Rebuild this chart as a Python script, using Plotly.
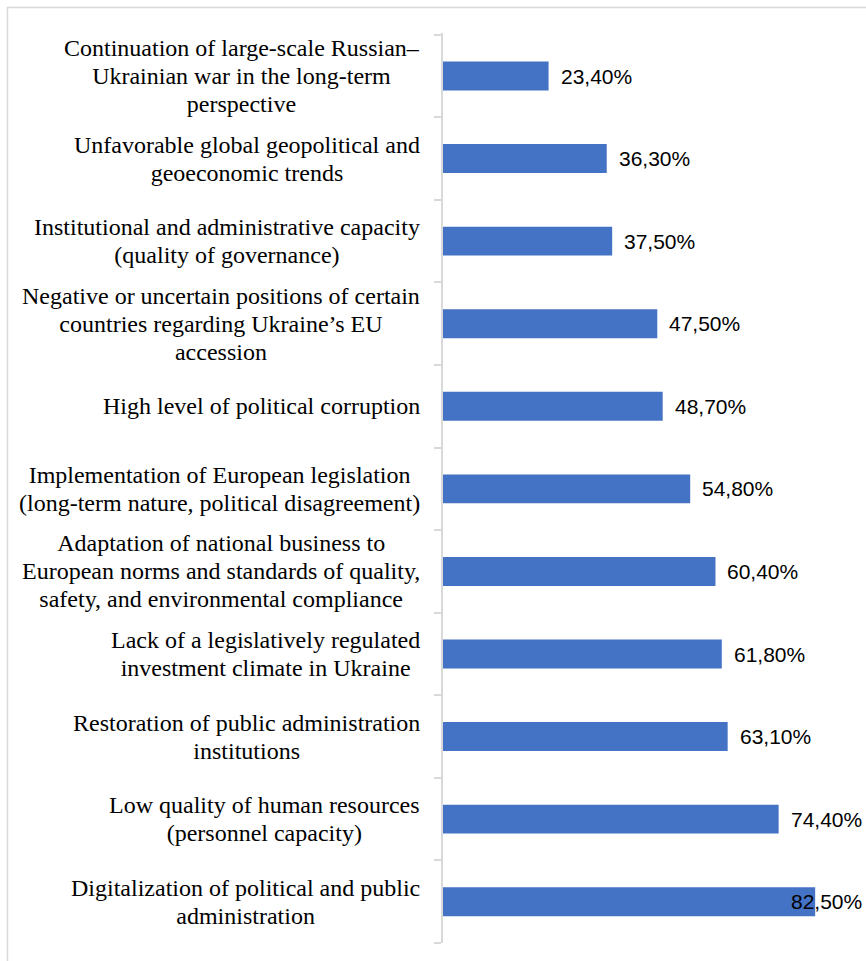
import plotly.graph_objects as go

categories = [
    "Digitalization of political and public<br>administration",
    "Low quality of human resources<br>(personnel capacity)",
    "Restoration of public administration<br>institutions",
    "Lack of a legislatively regulated<br>investment climate in Ukraine",
    "Adaptation of national business to<br>European norms and standards of quality,<br>safety, and environmental compliance",
    "Implementation of European legislation<br>(long-term nature, political disagreement)",
    "High level of political corruption",
    "Negative or uncertain positions of certain<br>countries regarding Ukraine’s EU<br>accession",
    "Institutional and administrative capacity<br>(quality of governance)",
    "Unfavorable global geopolitical and<br>geoeconomic trends",
    "Continuation of large-scale Russian–<br>Ukrainian war in the long-term<br>perspective",
]
values = [82.5, 74.4, 63.1, 61.8, 60.4, 54.8, 48.7, 47.5, 37.5, 36.3, 23.4]
labels = ["82,50%", "74,40%", "63,10%", "61,80%", "60,40%", "54,80%",
          "48,70%", "47,50%", "37,50%", "36,30%", "23,40%"]

XMAX = 90
LABEL_W = 72  # approx pixel width of a value label

W, H = 866, 961
ML, MR, MT, MB = 443, 17, 33, 18
plot_w = W - ML - MR
px_per_unit = plot_w / XMAX

fig = go.Figure()
fig.add_trace(go.Bar(
    y=categories, x=values, orientation="h",
    marker=dict(color="#4472C4", line=dict(width=0)),
    width=0.35, hoverinfo="skip",
))

annotations = []
for c in categories:
    annotations.append(dict(
        xref="paper", yref="y", x=0, y=c, xanchor="right", yanchor="middle",
        xshift=-21, align="center", showarrow=False,
        text='<span style="font-size:24px">' + c.replace("<br>", '</span><br><span style="font-size:24px">') + "</span>",
        font=dict(family="Liberation Serif, Times New Roman, serif", size=21.5, color="#000000"),
    ))
for c, v, lab in zip(categories, values, labels):
    end_px = v * px_per_unit + 13 + LABEL_W
    if end_px > plot_w + MR - 2:
        annotations.append(dict(
            xref="paper", yref="y", x=1, y=c, xanchor="right", yanchor="middle",
            xshift=MR - 2, showarrow=False, text=lab,
            font=dict(family="Liberation Sans, Arial, sans-serif", size=21, color="#000000"),
        ))
    else:
        annotations.append(dict(
            xref="x", yref="y", x=v, y=c, xanchor="left", yanchor="middle",
            xshift=10, showarrow=False, text=lab,
            font=dict(family="Liberation Sans, Arial, sans-serif", size=21, color="#000000"),
        ))

fig.update_layout(
    width=W, height=H,
    margin=dict(l=ML, r=MR, t=MT, b=MB),
    paper_bgcolor="white", plot_bgcolor="white",
    showlegend=False,
    bargap=0.65,
    annotations=annotations,
    xaxis=dict(range=[0, XMAX], visible=False, fixedrange=True),
    yaxis=dict(
        type="category", showticklabels=False, ticks="outside", tickson="boundaries",
        ticklen=7, tickcolor="#d9d9d9", tickwidth=1.5,
        showline=True, linecolor="#d9d9d9", linewidth=1.5,
        showgrid=False, zeroline=False, fixedrange=True,
    ),
    shapes=[dict(
        type="rect", xref="paper", yref="paper",
        xsizemode="pixel", ysizemode="pixel", xanchor=0, yanchor=1,
        x0=-(ML - 7.5), x1=W, y0=MT - 7.5, y1=-H,
        line=dict(color="#d9d9d9", width=1.5), fillcolor="rgba(0,0,0,0)",
    )],
)

fig.write_html(
    "out.html",
    config={"displayModeBar": False},
    post_script="document.body.style.margin='0';document.body.style.overflow='hidden';",
)
